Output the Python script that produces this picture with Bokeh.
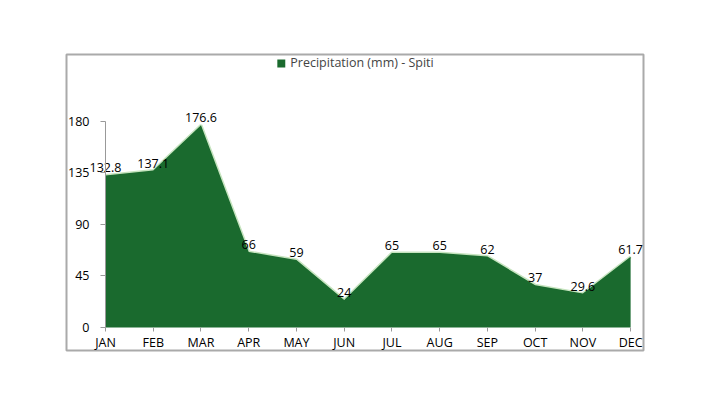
from bokeh.plotting import figure
from bokeh.models import FixedTicker, ColumnDataSource, Legend, LegendItem
from bokeh.embed import file_html
from bokeh.resources import INLINE
from bokeh.core.properties import value

months = ["JAN", "FEB", "MAR", "APR", "MAY", "JUN", "JUL", "AUG", "SEP", "OCT", "NOV", "DEC"]
precip = [132.8, 137.1, 176.6, 66, 59, 24, 65, 65, 62, 37, 29.6, 61.7]
labels = ["132.8", "137.1", "176.6", "66", "59", "24", "65", "65", "62", "37", "29.6", "61.7"]
y_ticks = [0, 45, 90, 135, 180]
series_name = "Precipitation (mm) - Spiti"

xs = list(range(len(months)))
src = ColumnDataSource(dict(x=xs, y=precip, lab=labels, zero=[0] * len(xs)))

FONT = "Open Sans"
GREEN = "#1a6a2e"

p = figure(
    width=709, height=399,
    frame_width=577, frame_height=296,
    min_border_left=66, min_border_right=66, min_border_top=54, min_border_bottom=49,
    x_range=(-0.817, 11.27), y_range=(-20.1, 238.5),
    output_backend="svg", toolbar_location=None,
)
p.grid.visible = False
p.outline_line_color = "#aaaaaa"
p.outline_line_width = 2
p.background_fill_color = "white"
p.border_fill_color = "white"

# soft halo along top edge
p.line("x", "y", source=src, line_color="#c6e4bf", line_width=3)
area = p.varea(x="x", y1="zero", y2="y", source=src, fill_color=GREEN)

p.text(x="x", y="y", text="lab", source=src, text_align="center", text_baseline="bottom",
       y_offset=-3, text_font=value(FONT), text_font_size="12.5px", text_color="black")

xa = p.xaxis[0]
xa.fixed_location = 0
xa.ticker = FixedTicker(ticks=xs)
xa.major_label_overrides = {i: m for i, m in enumerate(months)}
xa.axis_line_color = None
xa.major_tick_line_color = "#999999"
xa.major_tick_in = 0
xa.major_tick_out = 4
xa.minor_tick_line_color = None
xa.major_label_standoff = 3
xa.major_label_text_font = FONT
xa.major_label_text_font_size = "12.5px"
xa.major_label_text_color = "black"

ya = p.yaxis[0]
ya.fixed_location = 0
ya.bounds = (0, 180)
ya.ticker = FixedTicker(ticks=y_ticks)
ya.axis_line_color = "#999999"
ya.major_tick_line_color = "#999999"
ya.major_tick_in = 0
ya.major_tick_out = 5
ya.minor_tick_line_color = None
ya.major_label_standoff = 11
ya.major_label_text_font = FONT
ya.major_label_text_font_size = "12.5px"
ya.major_label_text_color = "black"

legend = Legend(items=[LegendItem(label=series_name, renderers=[area])],
                location="top_center", orientation="horizontal",
                glyph_width=10, glyph_height=10, label_text_font=FONT,
                label_text_font_size="12.5px", border_line_color=None,
                background_fill_alpha=0, margin=0, padding=3, label_standoff=5)
p.add_layout(legend)

open("out.html", "w").write(file_html(p, INLINE))
